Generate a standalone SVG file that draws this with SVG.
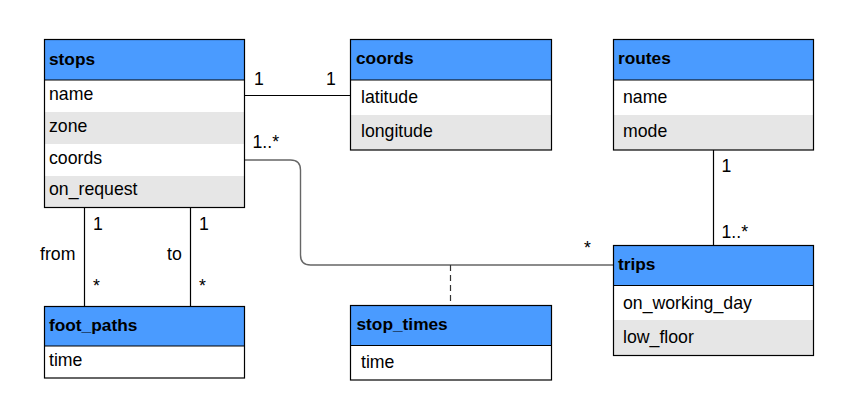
<svg xmlns="http://www.w3.org/2000/svg" width="853" height="420" viewBox="0 0 853 420">
  <style>
    text { font-family: "Liberation Sans", Arial, sans-serif; font-size: 17.7px; fill: #000; }
    .h { font-weight: bold; font-size: 17.3px; }
    .hdr { fill: #4a9bff; }
    .alt { fill: #e6e6e6; }
    .body { fill: #ffffff; }
    .frame { fill: none; stroke: #000; stroke-width: 1.2; }
    .sep { stroke: #000; stroke-width: 1.2; }
    .conn { fill: none; stroke: #000; stroke-width: 1.2; }
    .gray { fill: none; stroke: #666; stroke-width: 1.4; }
    .dash { fill: none; stroke: #333; stroke-width: 1.2; stroke-dasharray: 6 4; }
  </style>
  <rect width="853" height="420" fill="#ffffff"/>

  <g id="connectors">
    <line class="conn" x1="244.5" y1="95.5" x2="350.5" y2="95.5"/>
    <path class="gray" d="M244.5 160 H290.5 Q300.5 160 300.5 170 V255 Q300.5 265 310.5 265 H613.5"/>
    <line class="dash" x1="450.5" y1="265" x2="450.5" y2="305.5"/>
    <line class="conn" x1="713.5" y1="150" x2="713.5" y2="245.5"/>
    <line class="conn" x1="84.5" y1="207.5" x2="84.5" y2="306.5"/>
    <line class="conn" x1="190.5" y1="207.5" x2="190.5" y2="306.5"/>
    <text x="254" y="85">1</text>
    <text x="326" y="85">1</text>
    <text x="252.5" y="148">1..*</text>
    <text x="584" y="254">*</text>
    <text x="721.5" y="171.5">1</text>
    <text x="721.5" y="237.5">1..*</text>
    <text x="93" y="229.5">1</text>
    <text x="93" y="292">*</text>
    <text x="40" y="260">from</text>
    <text x="167" y="259.5">to</text>
    <text x="199" y="229.5">1</text>
    <text x="199" y="292">*</text>
  </g>

  <g id="stops">
    <rect class="body" x="44.5" y="39.5" width="200" height="168"/>
    <rect class="hdr" x="44.5" y="39.5" width="200" height="40.5"/>
    <rect class="alt" x="44.5" y="112" width="200" height="32"/>
    <rect class="alt" x="44.5" y="176" width="200" height="31.5"/>
    <line class="sep" x1="44.5" y1="80" x2="244.5" y2="80"/>
    <rect class="frame" x="44.5" y="39.5" width="200" height="168"/>
    <text class="h" x="49" y="64.5">stops</text>
    <text x="49" y="99.5">name</text>
    <text x="49" y="131.5">zone</text>
    <text x="49" y="163.5">coords</text>
    <text x="49" y="195">on_request</text>
  </g>

  <g id="coords">
    <rect class="body" x="350.5" y="39.5" width="201" height="110.5"/>
    <rect class="hdr" x="350.5" y="39.5" width="201" height="40.5"/>
    <rect class="alt" x="350.5" y="115" width="201" height="35"/>
    <line class="sep" x1="350.5" y1="80" x2="551.5" y2="80"/>
    <rect class="frame" x="350.5" y="39.5" width="201" height="110.5"/>
    <text class="h" x="356" y="64">coords</text>
    <text x="361" y="103">latitude</text>
    <text x="361" y="137">longitude</text>
  </g>

  <g id="routes">
    <rect class="body" x="613.5" y="39.5" width="200" height="110.5"/>
    <rect class="hdr" x="613.5" y="39.5" width="200" height="40.5"/>
    <rect class="alt" x="613.5" y="115" width="200" height="35"/>
    <line class="sep" x1="613.5" y1="80" x2="813.5" y2="80"/>
    <rect class="frame" x="613.5" y="39.5" width="200" height="110.5"/>
    <text class="h" x="618" y="64">routes</text>
    <text x="623" y="103">name</text>
    <text x="623" y="137">mode</text>
  </g>

  <g id="trips">
    <rect class="body" x="613.5" y="245.5" width="200" height="110"/>
    <rect class="hdr" x="613.5" y="245.5" width="200" height="40"/>
    <rect class="alt" x="613.5" y="320" width="200" height="35.5"/>
    <line class="sep" x1="613.5" y1="285.5" x2="813.5" y2="285.5"/>
    <rect class="frame" x="613.5" y="245.5" width="200" height="110"/>
    <text class="h" x="618" y="270">trips</text>
    <text x="623" y="308.5">on_working_day</text>
    <text x="623" y="343">low_floor</text>
  </g>

  <g id="foot_paths">
    <rect class="body" x="44.5" y="306.5" width="200" height="71.5"/>
    <rect class="hdr" x="44.5" y="306.5" width="200" height="39.5"/>
    <line class="sep" x1="44.5" y1="346" x2="244.5" y2="346"/>
    <rect class="frame" x="44.5" y="306.5" width="200" height="71.5"/>
    <text class="h" x="49" y="330.5">foot_paths</text>
    <text x="49" y="366">time</text>
  </g>

  <g id="stop_times">
    <rect class="body" x="350.5" y="305.5" width="201" height="74.5"/>
    <rect class="hdr" x="350.5" y="305.5" width="201" height="40"/>
    <line class="sep" x1="350.5" y1="345.5" x2="551.5" y2="345.5"/>
    <rect class="frame" x="350.5" y="305.5" width="201" height="74.5"/>
    <text class="h" x="356.5" y="329.5">stop_times</text>
    <text x="361" y="367.5">time</text>
  </g>
</svg>
